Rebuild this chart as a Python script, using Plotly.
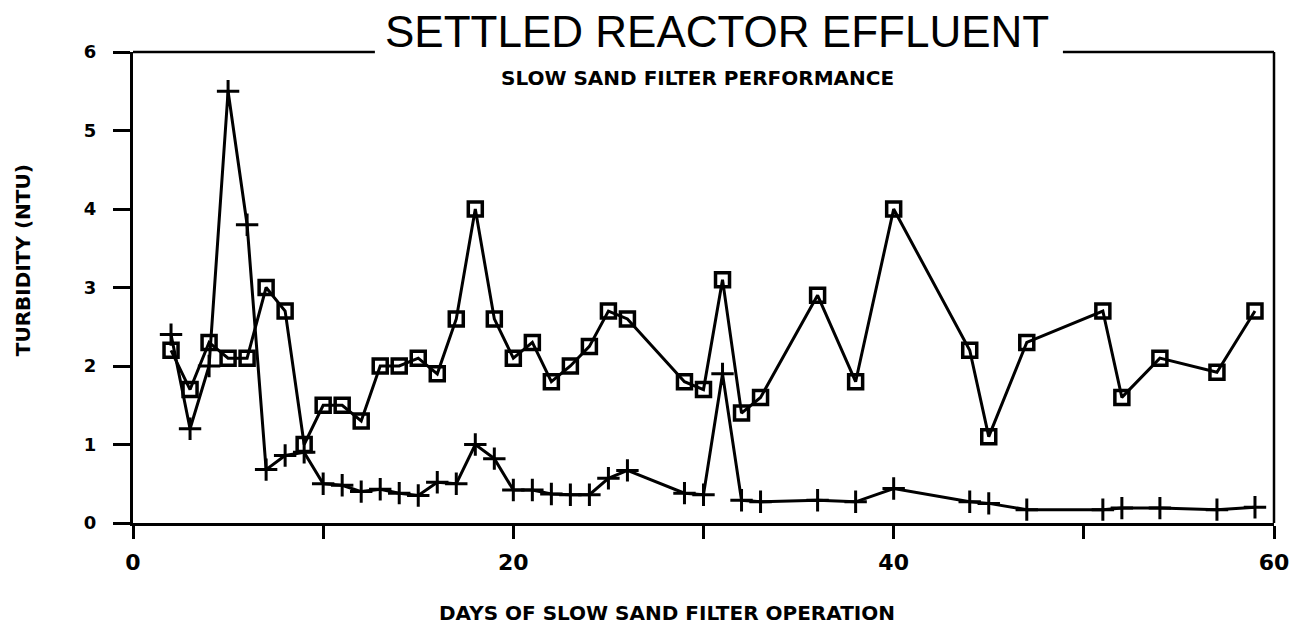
import plotly.graph_objects as go

# Settled reactor effluent (squares) and filtered water (plus) turbidity, NTU
days_sq = [2, 3, 4, 5, 6, 7, 8, 9, 10, 11, 12, 13, 14, 15, 16, 17, 18, 19, 20,
           21, 22, 23, 24, 25, 26, 29, 30, 31, 32, 33, 36, 38, 40, 44, 45, 47,
           51, 52, 54, 57, 59]
turb_sq = [2.2, 1.7, 2.3, 2.1, 2.1, 3.0, 2.7, 1.0, 1.5, 1.5, 1.3, 2.0, 2.0, 2.1,
           1.9, 2.6, 4.0, 2.6, 2.1, 2.3, 1.8, 2.0, 2.25, 2.7, 2.6, 1.8, 1.7, 3.1,
           1.4, 1.6, 2.9, 1.8, 4.0, 2.2, 1.1, 2.3, 2.7, 1.6, 2.1, 1.92, 2.7]

days_pl = [2, 3, 4, 5, 6, 7, 8, 9, 10, 11, 12, 13, 14, 15, 16, 17, 18, 19, 20,
           21, 22, 23, 24, 25, 26, 29, 30, 31, 32, 33, 36, 38, 40, 44, 45, 47,
           51, 52, 54, 57, 59]
turb_pl = [2.4, 1.2, 2.0, 5.5, 3.8, 0.68, 0.86, 0.9, 0.5, 0.48, 0.4, 0.43, 0.38,
           0.35, 0.52, 0.5, 1.0, 0.82, 0.42, 0.42, 0.37, 0.36, 0.36, 0.57, 0.67,
           0.38, 0.36, 1.9, 0.29, 0.27, 0.29, 0.27, 0.44, 0.27, 0.25, 0.17,
           0.17, 0.19, 0.19, 0.17, 0.2]

x_ticks = [0, 10, 20, 30, 40, 50, 60]
x_labels = ["0", "", "20", "", "40", "", "60"]
y_ticks = [0, 1, 2, 3, 4, 5, 6]

BOLD = "DejaVu Sans"

fig = go.Figure()

fig.add_trace(go.Scatter(
    x=days_sq, y=turb_sq, mode="lines+markers",
    line=dict(color="black", width=3),
    marker=dict(symbol="square-open", size=14, color="black",
                line=dict(color="black", width=3.5)),
    showlegend=False, cliponaxis=False,
))
fig.add_trace(go.Scatter(
    x=days_pl, y=turb_pl, mode="lines+markers",
    line=dict(color="black", width=3),
    marker=dict(symbol="cross-thin", size=16, color="black",
                line=dict(color="black", width=3)),
    showlegend=False, cliponaxis=False,
))

# frame: top border is broken by the title, right border closed
line_style = dict(color="black", width=2.5)
fig.add_shape(type="line", xref="paper", yref="paper", x0=0, x1=0.212, y0=1, y1=1,
              line=line_style)
fig.add_shape(type="line", xref="paper", yref="paper", x0=0.815, x1=1, y0=1, y1=1,
              line=line_style)
fig.add_shape(type="line", xref="paper", yref="paper", x0=1, x1=1, y0=0, y1=1,
              line=line_style)

fig.add_annotation(text="SETTLED REACTOR EFFLUENT", xref="paper", yref="paper",
                   x=0.512, y=1.0425, xanchor="center", yanchor="middle",
                   showarrow=False,
                   font=dict(family="Liberation Sans, Arial", size=44, color="black"))
fig.add_annotation(text="<b>SLOW SAND FILTER PERFORMANCE</b>", xref="paper", yref="paper",
                   x=0.495, y=0.945, xanchor="center", yanchor="middle", showarrow=False,
                   font=dict(family=BOLD, size=20, color="black"))
fig.add_annotation(text="<b>DAYS OF SLOW SAND FILTER OPERATION</b>", xref="paper",
                   yref="paper", x=0.468, y=-0.191, xanchor="center", yanchor="middle",
                   showarrow=False, font=dict(family=BOLD, size=20, color="black"))
fig.add_annotation(text="<b>TURBIDITY (NTU)</b>", xref="paper", yref="paper",
                   x=-0.0964, y=0.558, xanchor="center", yanchor="middle", textangle=-90,
                   showarrow=False, font=dict(family=BOLD, size=20, color="black"))

fig.update_xaxes(range=[0, 60], tickvals=x_ticks, ticktext=x_labels,
                 showgrid=False, zeroline=False, showline=True, linecolor="black",
                 linewidth=3, ticks="outside", ticklen=13, tickwidth=2.5,
                 tickcolor="black", ticklabelstandoff=5,
                 tickfont=dict(family=BOLD, size=22, color="black", weight="bold"))
fig.update_yaxes(range=[0, 6], tickvals=y_ticks,
                 showgrid=False, zeroline=False, showline=True, linecolor="black",
                 linewidth=3, ticks="outside", ticklen=17, tickwidth=2.5,
                 tickcolor="black", ticklabelstandoff=13,
                 tickfont=dict(family=BOLD, size=18, color="black", weight="bold"))

# page body adds an 8px offset, so margins are shifted to compensate
fig.update_layout(
    width=1299, height=630,
    margin=dict(l=125, r=33, t=44, b=115),
    paper_bgcolor="white", plot_bgcolor="white",
)

fig.write_html("out.html")
